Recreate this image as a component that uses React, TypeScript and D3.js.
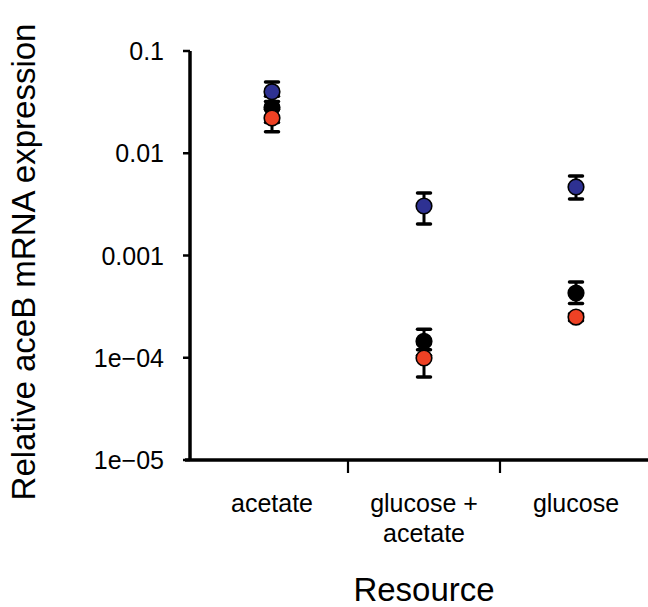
import React from "react";
import * as d3 from "d3";

const categories = ["acetate", "glucose +|acetate", "glucose"];
const yTicks = [1e-5, 1e-4, 1e-3, 1e-2, 1e-1];
const yTickLabels = ["1e\u221205", "1e\u221204", "0.001", "0.01", "0.1"];

const blackMean = [0.028, 1.45e-4, 4.3e-4];
const blackLo = [0.02, 1.05e-4, 3.4e-4];
const blackHi = [0.036, 1.9e-4, 5.5e-4];

const blueMean = [0.04, 0.00305, 0.00468];
const blueLo = [0.032, 0.00203, 0.00357];
const blueHi = [0.0497, 0.00408, 0.006];

const redMean = [0.0221, 9.95e-5, 2.5e-4];
const redLo = [0.0162, 6.5e-5, 2.3e-4];
const redHi = [0.027, 1.2e-4, 2.7e-4];

const series = [
  { name: "black", color: "#000000", mean: blackMean, lo: blackLo, hi: blackHi },
  { name: "blue", color: "#2E3192", mean: blueMean, lo: blueLo, hi: blueHi },
  { name: "red", color: "#EE4124", mean: redMean, lo: redLo, hi: redHi },
];

const W = 648;
const H = 607;
const axisX = 190;
const axisY = 460;

export default function App() {
  const x = d3.scaleBand<string>().domain(categories).range([196, 652]).padding(0);
  const y = d3.scaleLog().domain([1e-5, 0.1]).range([460, 51]);
  const cx = (c: string) => (x(c) as number) + x.bandwidth() / 2;
  const font = "'Liberation Sans', Arial, Helvetica, sans-serif";
  const capW = 6.5;

  return (
    <svg width={W} height={H} style={{ position: "absolute", left: 0, top: 0 }} fontFamily={font}>
      <rect width={W} height={H} fill="#fff" />
      {/* y axis */}
      <line x1={axisX} x2={axisX} y1={y(0.1)} y2={axisY} stroke="#000" strokeWidth={3.5} />
      {yTicks.map((t, i) => (
        <g key={t}>
          <line x1={axisX - 7} x2={axisX} y1={y(t)} y2={y(t)} stroke="#000" strokeWidth={2.5} />
          <text x={164} y={y(t) + 9} textAnchor="end" fontSize={25}>
            {yTickLabels[i]}
          </text>
        </g>
      ))}
      {/* x axis */}
      <line x1={185} x2={W} y1={axisY} y2={axisY} stroke="#000" strokeWidth={3.5} />
      {categories.slice(1).map((c) => (
        <line key={c} x1={x(c) as number} x2={x(c) as number} y1={axisY} y2={axisY + 13} stroke="#000" strokeWidth={2.2} />
      ))}
      {categories.map((c) => (
        <text key={c} x={cx(c)} y={512} textAnchor="middle" fontSize={25}>
          {c.split("|").map((line, i) => (
            <tspan key={i} x={cx(c)} dy={i === 0 ? 0 : 30}>
              {line}
            </tspan>
          ))}
        </text>
      ))}
      {/* titles */}
      <text x={424} y={601} textAnchor="middle" fontSize={33}>
        Resource
      </text>
      <text transform={`translate(35,262) rotate(-90)`} textAnchor="middle" fontSize={33}>
        Relative aceB mRNA expression
      </text>
      {/* error bars */}
      {series.map((s) =>
        categories.map((c, i) => (
          <g key={s.name + c}>
            <line x1={cx(c)} x2={cx(c)} y1={y(s.lo[i])} y2={y(s.hi[i])} stroke="#000" strokeWidth={3} />
            <line x1={cx(c) - capW} x2={cx(c) + capW} y1={y(s.lo[i])} y2={y(s.lo[i])} stroke="#000" strokeWidth={3.5} strokeLinecap="round" />
            <line x1={cx(c) - capW} x2={cx(c) + capW} y1={y(s.hi[i])} y2={y(s.hi[i])} stroke="#000" strokeWidth={3.5} strokeLinecap="round" />
          </g>
        ))
      )}
      {/* points */}
      {series.map((s) =>
        categories.map((c, i) => (
          <circle key={s.name + c + "p"} cx={cx(c)} cy={y(s.mean[i])} r={7.8} fill={s.color} stroke="#000" strokeWidth={1.6} />
        ))
      )}
    </svg>
  );
}
